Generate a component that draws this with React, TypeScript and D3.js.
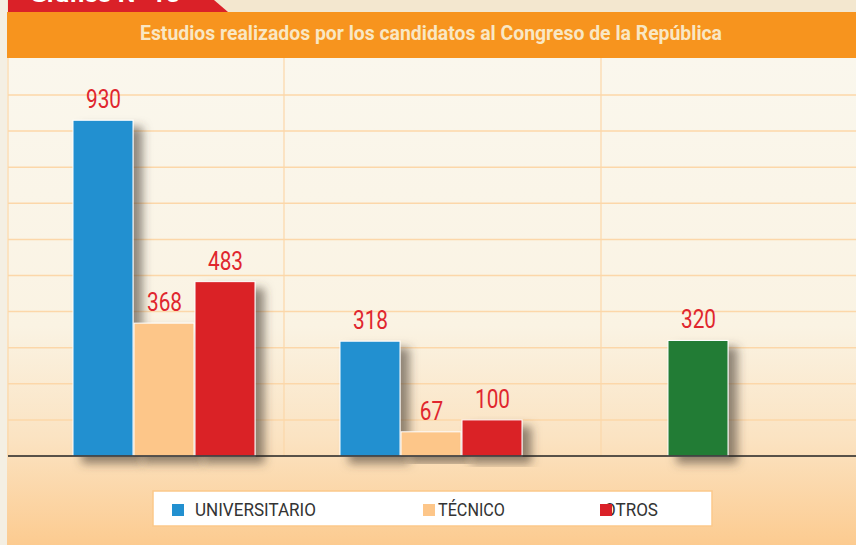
import { useMemo } from "react";
import * as d3 from "d3";

const W = 856;
const H = 545;

// data
const groups = ["G1", "G2", "G3"];
const series = ["UNIVERSITARIO", "TÉCNICO", "OTROS"];
const seriesColors = ["#2290d0", "#fdc689", "#da2128"];
const groupValues = [
  [930, 368, 483],
  [318, 67, 100],
];
const singleValue = 320; // third group, single green bar
const singleColor = "#237c35";
const gridTicks = [100, 200, 300, 400, 500, 600, 700, 800, 900, 1000];
const title = "Estudios realizados por los candidatos al Congreso de la República";

const FONT = "Roboto, 'Liberation Sans', sans-serif";

export default function App() {
  const y = useMemo(() => d3.scaleLinear().domain([0, 1000]).range([456, 95]), []);
  const x0 = useMemo(() => d3.scaleBand().domain(groups).range([31, 832]).padding(0), []);
  const barW = 61;
  const x1 = useMemo(
    () => d3.scaleBand().domain(series).range([-barW * 1.5, barW * 1.5]).padding(0),
    []
  );

  type Bar = { key: string; cx: number; v: number; color: string };
  const bars: Bar[] = [];
  groupValues.forEach((vals, gi) => {
    const g = groups[gi];
    const c = x0(g)! + x0.bandwidth() / 2;
    vals.forEach((v, si) => {
      bars.push({
        key: g + series[si],
        cx: c + x1(series[si])! + x1.bandwidth() / 2,
        v,
        color: seriesColors[si],
      });
    });
  });
  bars.push({
    key: "G3single",
    cx: x0("G3")! + x0.bandwidth() / 2,
    v: singleValue,
    color: singleColor,
  });

  const legendItems = [
    { label: series[0], color: seriesColors[0], sx: 172, tx: 195, len: 121 },
    { label: series[1], color: seriesColors[1], sx: 423, tx: 438, len: 67 },
    { label: series[2], color: seriesColors[2], sx: 600, tx: 604, len: 54 },
  ];

  return (
    <svg
      width={W}
      height={H}
      style={{ position: "absolute", left: 0, top: 0 }}
      fontFamily={FONT}
    >
      <defs>
        <linearGradient id="bg" x1="0" y1="58" x2="0" y2="545" gradientUnits="userSpaceOnUse">
          <stop offset="0" stopColor="#faf7ed" />
          <stop offset="0.55" stopColor="#faf3e3" />
          <stop offset="0.78" stopColor="#fbe3c2" />
          <stop offset="1" stopColor="#fccb90" />
        </linearGradient>
        <filter id="shadow" x="-30%" y="-30%" width="180%" height="160%">
          <feGaussianBlur in="SourceAlpha" stdDeviation="5" />
          <feOffset dx="9" dy="7" result="b" />
          <feFlood floodColor="#4a3f35" floodOpacity="0.6" />
          <feComposite in2="b" operator="in" />
          <feMerge>
            <feMergeNode />
            <feMergeNode in="SourceGraphic" />
          </feMerge>
        </filter>
      </defs>

      <rect x={0} y={0} width={W} height={H} fill="#f4efe3" />
      <rect x={7} y={0} width={W - 7} height={12} fill="#f3e7cf" />
      <rect x={7} y={58} width={W - 7} height={H - 58} fill="url(#bg)" />

      {/* red tab */}
      <path d="M8,0 L214,0 L228,12 L8,12 Z" fill="#da2128" />
      <text x={30} y={2} fill="#ffffff" fontWeight="bold" fontSize={20} textLength={150} lengthAdjust="spacingAndGlyphs">
        Gráfico N° 15
      </text>

      {/* header band */}
      <rect x={7} y={12} width={W - 7} height={46} fill="#f7941e" />
      <text
        x={140}
        y={40}
        fill="#f9e7c4"
        fontWeight="bold"
        fontSize={19.5}
        textLength={582}
        lengthAdjust="spacingAndGlyphs"
      >
        {title}
      </text>

      {/* grid */}
      {gridTicks.map((t) => (
        <line key={t} x1={8} x2={W} y1={y(t)} y2={y(t)} stroke="#fcd7a9" strokeWidth={1.5} />
      ))}
      {[8, 284, 601].map((vx) => (
        <line key={vx} x1={vx} x2={vx} y1={58} y2={456} stroke="#fcd7a9" strokeWidth={1.2} />
      ))}

      {/* bars */}
      {bars.map((b) => (
        <rect
          key={b.key}
          x={b.cx - barW / 2}
          y={y(b.v)}
          width={barW - 1}
          height={y(0) - y(b.v)}
          fill={b.color}
          stroke="#ffffff"
          strokeWidth={1}
          filter="url(#shadow)"
        />
      ))}
      {bars.map((b) => (
        <text
          key={b.key + "l"}
          transform={`translate(${b.cx},${y(b.v) - 12}) scale(0.8,1)`}
          textAnchor="middle"
          fill="#e0262e"
          fontSize={26}
        >
          {b.v}
        </text>
      ))}

      {/* baseline */}
      <line x1={8} x2={W} y1={y(0)} y2={y(0)} stroke="#222" strokeWidth={1.3} />

      {/* legend */}
      <rect x={153} y={491} width={559} height={35} fill="#ffffff" stroke="#fcc98a" strokeWidth={1.5} />
      {legendItems.map((it) => (
        <g key={it.label}>
          <text
            x={it.tx}
            y={516}
            fill="#333"
            fontSize={19}
            textLength={it.len}
            lengthAdjust="spacingAndGlyphs"
          >
            {it.label}
          </text>
          <rect x={it.sx} y={504} width={12} height={12} fill={it.color} />
        </g>
      ))}
    </svg>
  );
}
